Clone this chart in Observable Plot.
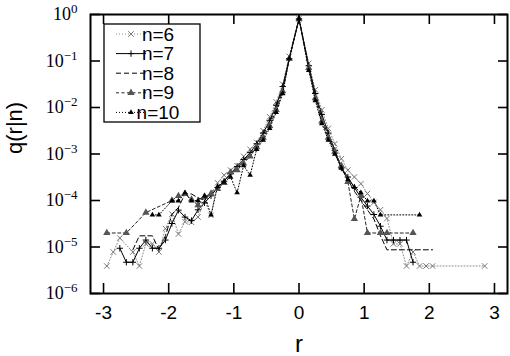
<!DOCTYPE html>
<html><head><meta charset="utf-8">
<script src="https://cdn.jsdelivr.net/npm/d3@7"></script>
<script src="https://cdn.jsdelivr.net/npm/@observablehq/plot@0.6"></script>
<style>body{margin:0;background:#fff}#chart{width:510px;height:356px}</style>
</head><body><div id="chart"></div>
<script>
const seriesNames = ["n=6","n=7","n=8","n=9","n=10"];
const xTicks = [-3,-2,-1,0,1,2,3];
const yTicks = [1e-6,1e-5,1e-4,1e-3,1e-2,1e-1,1];
const yTickExponents = ["−6","−5","−4","−3","−2","−1","0"];

const r6 = [-2.95,-2.85,-2.75,-2.55,-2.45,-2.35,-2.25,-2.15,-2.05,-1.95,-1.85,-1.75,-1.65,-1.55,-1.45,-1.35,-1.25,-1.15,-1.05,-0.95,-0.85,-0.75,-0.65,-0.55,-0.45,-0.35,-0.25,-0.15,0,0.15,0.25,0.35,0.45,0.55,0.65,0.75,0.85,0.95,1.05,1.15,1.25,1.35,1.45,1.55,1.65,1.75,1.85,1.95,2.05,2.85];
const q6 = [3.9e-6,7.8e-6,1.56e-5,7.8e-6,3.9e-6,1.17e-5,1.17e-5,7.8e-6,2.5e-5,5.1e-5,1.9e-5,3.5e-5,3.4e-5,4.4e-5,1.0e-4,4.8e-5,2.4e-4,3.5e-4,4.5e-4,5.6e-4,8.9e-4,1.26e-3,1.78e-3,3.16e-3,6.3e-3,0.0132,0.0316,0.126,0.81,0.089,0.024,0.0089,0.00355,0.00166,7.9e-4,4.5e-4,3.2e-4,2.3e-4,1.41e-4,9.1e-5,6.3e-5,4.1e-5,1.17e-5,1.17e-5,3.9e-6,7.8e-6,3.9e-6,3.9e-6,3.9e-6,3.9e-6];

const r7 = [-2.75,-2.65,-2.55,-2.45,-2.35,-2.25,-2.15,-2.05,-1.95,-1.85,-1.75,-1.65,-1.55,-1.45,-1.35,-1.25,-1.15,-1.05,-0.95,-0.85,-0.75,-0.65,-0.55,-0.45,-0.35,-0.25,-0.15,0,0.15,0.25,0.35,0.45,0.55,0.65,0.75,0.85,0.95,1.05,1.15,1.25,1.35,1.45,1.55,1.65,1.75];
const q7 = [9.4e-6,4.7e-6,4.7e-6,9.4e-6,1.41e-5,9.4e-6,9.4e-6,1.41e-5,3.2e-5,6.2e-5,4.4e-5,3.7e-5,6.3e-5,8.9e-5,1.26e-4,1.9e-4,2.6e-4,3.8e-4,5.4e-4,7.6e-4,1.07e-3,1.66e-3,2.82e-3,5.2e-3,0.0112,0.0282,0.112,0.81,0.079,0.020,0.0071,0.00282,0.0012,5.0e-4,3.2e-4,1.9e-4,1.17e-4,7.6e-5,5.0e-5,2.8e-5,1.41e-5,1.41e-5,1.41e-5,1.41e-5,4.7e-6];

const r8 = [-2.55,-2.45,-2.35,-2.25,-2.15,-2.05,-1.95,-1.85,-1.75,-1.65,-1.55,-1.45,-1.35,-1.25,-1.15,-1.05,-0.95,-0.85,-0.75,-0.65,-0.55,-0.45,-0.35,-0.25,-0.15,0,0.15,0.25,0.35,0.45,0.55,0.65,0.75,0.85,0.95,1.05,1.15,1.25,1.35,2.05];
const q8 = [8.7e-6,1.74e-5,1.74e-5,1.74e-5,8.7e-6,1.74e-5,5.0e-5,7.1e-5,1.38e-4,1.38e-4,1.15e-4,1.0e-4,1.5e-4,2.0e-4,2.8e-4,3.5e-4,5.0e-4,7.1e-4,1.0e-3,1.51e-3,2.51e-3,4.8e-3,0.010,0.0251,0.107,0.81,0.071,0.0178,0.006,0.0024,1.05e-3,5.0e-4,2.8e-4,1.58e-4,1.0e-4,6.3e-5,4.0e-5,1.74e-5,8.7e-6,8.7e-6];

const r9 = [-2.95,-2.65,-2.35,-1.95,-1.85,-1.75,-1.65,-1.55,-1.45,-1.35,-1.25,-1.15,-1.05,-0.95,-0.85,-0.75,-0.65,-0.55,-0.45,-0.35,-0.25,-0.15,0,0.15,0.25,0.35,0.45,0.55,0.65,0.75,0.85,0.95,1.05,1.25,1.35,1.75];
const q9 = [2.0e-5,2.0e-5,5.5e-5,1.0e-4,1.26e-4,1.38e-4,1.05e-4,7.9e-5,1.2e-4,1.41e-4,1.78e-4,2.4e-4,4.0e-4,4.5e-4,6.3e-4,8.9e-4,1.41e-3,2.24e-3,4.0e-3,8.9e-3,0.0224,0.112,0.81,0.071,0.0158,0.005,0.00224,1.12e-3,5.6e-4,2.5e-4,4.0e-5,1.26e-4,2.0e-5,2.0e-5,2.0e-5,2.0e-5];

const r10 = [-2.25,-2.15,-1.95,-1.85,-1.75,-1.65,-1.55,-1.45,-1.35,-1.25,-1.15,-1.05,-0.95,-0.85,-0.75,-0.65,-0.55,-0.45,-0.35,-0.25,-0.15,0,0.15,0.25,0.35,0.45,0.55,0.65,0.75,0.85,0.95,1.05,1.15,1.25,1.85];
const q10 = [4.9e-5,4.9e-5,9.8e-5,9.8e-5,1.47e-4,9.8e-5,1.0e-4,1.26e-4,4.9e-5,2.0e-4,2.5e-4,3.2e-4,1.47e-4,5.6e-4,3.5e-4,1.26e-3,2.0e-3,3.55e-3,7.9e-3,0.020,0.112,0.81,0.063,0.0141,0.0045,0.0020,1.0e-3,5.0e-4,2.8e-4,1.95e-4,1.47e-4,9.8e-5,9.8e-5,4.9e-5,4.9e-5];

const rAll = [r6,r7,r8,r9,r10];
const qAll = [q6,q7,q8,q9,q10];

const styles = [
  {stroke:"#8c8c8c", dash:"1,2", symbol:"times", mStroke:"#777", mFill:"none", r:2.6},
  {stroke:"#000", dash:null, symbol:"plus", mStroke:"#000", mFill:"none", r:2.2},
  {stroke:"#000", dash:"5,3", symbol:null},
  {stroke:"#222", dash:"3,2.5", symbol:"triangle", mStroke:"none", mFill:"#555", r:2.7},
  {stroke:"#000", dash:"1,2", symbol:"triangle", mStroke:"none", mFill:"#000", r:2.1}
];

const W = 510, H = 356;
const mL = 90, mR = 3, mT = 14, mB = 63;
const innerW = W - mL - mR, innerH = H - mT - mB;

const marks = [];
seriesNames.forEach((name, i) => {
  const rows = rAll[i].map((r, j) => ({r, q: qAll[i][j], n: name}));
  const s = styles[i];
  marks.push(Plot.line(rows, {x:"r", y:"q", stroke:s.stroke, strokeWidth:1, strokeDasharray:s.dash || undefined}));
  if (s.symbol) marks.push(Plot.dot(rows, {x:"r", y:"q", symbol:s.symbol, r:s.r, stroke:s.mStroke, fill:s.mFill, strokeWidth:1}));
});

const plot = Plot.plot({
  width: W, height: H,
  marginLeft: mL, marginRight: mR, marginTop: mT, marginBottom: mB,
  style: {background:"#fff", overflow:"visible"},
  x: {domain:[-3.2,3.2]},
  y: {type:"log", domain:[1e-6,1]},
  marks: [
    ...marks,
    Plot.tickY(yTicks, {y:d=>d, insetRight: innerW-10, strokeWidth:1.6}),
    Plot.tickY(yTicks, {y:d=>d, insetLeft: innerW-9, strokeWidth:1.6}),
    Plot.tickX(xTicks, {x:d=>d, insetTop: innerH-10, strokeWidth:1.6}),
    Plot.tickX(xTicks, {x:d=>d, insetBottom: innerH-10, strokeWidth:1.6}),
    Plot.frame({stroke:"#000", strokeWidth:2}),
    Plot.axisY({ticks:yTicks, tickSize:0, tickPadding:13, label:null,
      tickFormat:(d)=>yTickExponents[yTicks.indexOf(d)], fontSize:18, fontFamily:"Liberation Serif", fill:"#000"}),
    Plot.axisX({ticks:xTicks, tickSize:0, tickPadding:12, label:null,
      tickFormat:(d)=>String(d), fontSize:19, fontFamily:"Liberation Sans", fill:"#000"}),
    Plot.text(["r"], {frameAnchor:"bottom", text:d=>d, dy:58, fontSize:24, fontFamily:"Liberation Sans", fill:"#000"}),
    Plot.text(["q(r|n)"], {frameAnchor:"left", text:d=>d, rotate:-90, dx:-76, fontSize:22, fontFamily:"Liberation Sans", fill:"#000"})
  ]
});
document.getElementById("chart").appendChild(plot);

// superscript exponents on the y tick labels
d3.select(plot).selectAll('g[aria-label="y-axis tick label"] text').each(function(){
  const t = d3.select(this);
  const exp = t.text();
  t.text("");
  t.append("tspan").text("10");
  t.append("tspan").attr("dy","-0.55em").attr("font-size","13").text(exp);
});

// legend
const svg = d3.select(plot);
const lg = svg.append("g").attr("font-family","Liberation Sans").attr("font-size",19);
const lx = 104, ly = 24, lw = 96, lh = 98;
lg.append("rect").attr("x",lx).attr("y",ly).attr("width",lw).attr("height",lh)
  .attr("fill","none").attr("stroke","#000").attr("stroke-width",1.3);
const symMap = {times:d3.symbolTimes, plus:d3.symbolPlus, triangle:d3.symbolTriangle};
seriesNames.forEach((name,i)=>{
  const s = styles[i];
  const y = 34 + i*19.6;
  lg.append("line").attr("x1",116).attr("x2",146).attr("y1",y).attr("y2",y)
    .attr("stroke",s.stroke).attr("stroke-width",1).attr("stroke-dasharray",s.dash||null);
  if (s.symbol) {
    lg.append("path").attr("d", d3.symbol(symMap[s.symbol], Math.PI*s.r*s.r)())
      .attr("transform",`translate(131,${y})`)
      .attr("fill",s.mFill).attr("stroke",s.mStroke).attr("stroke-width",1);
  }
  lg.append("text").attr("x",158).attr("y",y).attr("dy","0.35em").attr("fill","#000").text(name);
});
</script>
</body></html>
